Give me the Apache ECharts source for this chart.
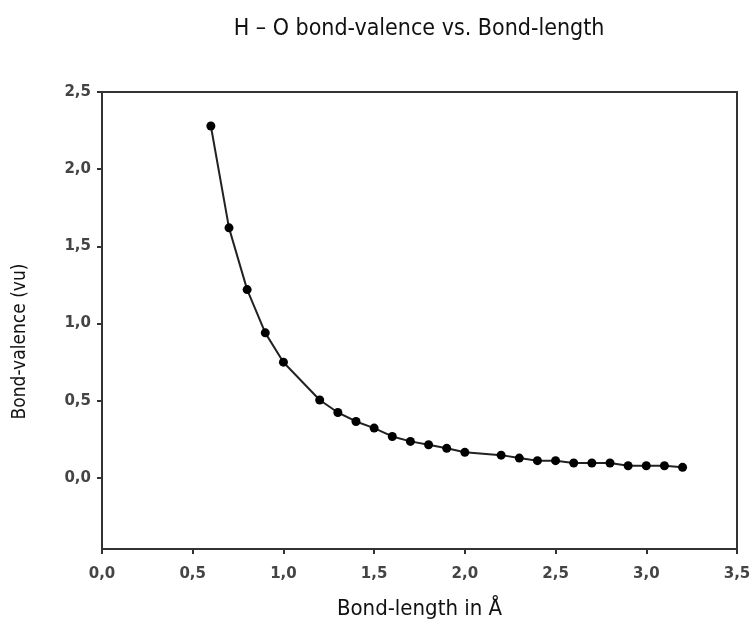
<!DOCTYPE html>
<html>
<head>
<meta charset="utf-8">
<script src="https://cdn.jsdelivr.net/npm/echarts@6/dist/echarts.min.js"></script>
<style>
  html, body { margin: 0; padding: 0; background: #fff; }
  #chart { width: 752px; height: 644px; }
</style>
</head>
<body>
<div id="chart"></div>
<script>
// H–O bond length (Å) and the corresponding bond valence (vu)
const bondLength = [0.6, 0.7, 0.8, 0.9, 1.0, 1.2, 1.3, 1.4, 1.5, 1.6, 1.7, 1.8, 1.9, 2.0,
                    2.2, 2.3, 2.4, 2.5, 2.6, 2.7, 2.8, 2.9, 3.0, 3.1, 3.2];
const bondValence = [2.28, 1.62, 1.22, 0.94, 0.75, 0.505, 0.424, 0.366, 0.323, 0.269, 0.237, 0.215, 0.192, 0.166,
                     0.148, 0.129, 0.112, 0.112, 0.097, 0.097, 0.097, 0.079, 0.079, 0.079, 0.069];
const valenceTicks = [0, 0.5, 1.0, 1.5, 2.0, 2.5];

const condensed = '"DejaVu Sans Condensed", "Liberation Sans Narrow", "Liberation Sans", sans-serif';
const comma = v => v.toFixed(1).replace('.', ',');

const chart = echarts.init(document.getElementById('chart'));
chart.setOption({
  animation: false,
  backgroundColor: '#fff',
  title: {
    text: 'H – O bond-valence vs. Bond-length',
    left: 414,
    top: 13,
    textAlign: 'center',
    textStyle: { fontFamily: condensed, fontSize: 23, fontWeight: 'normal', color: '#111' }
  },
  grid: {
    left: 102, right: 15, top: 92, bottom: 95,
    outerBoundsMode: 'none',
    containLabel: false,
    show: true, borderColor: '#333', borderWidth: 2, backgroundColor: '#fff'
  },
  xAxis: {
    type: 'value',
    min: 0, max: 3.5, interval: 0.5,
    name: 'Bond-length in Å',
    nameLocation: 'middle',
    nameGap: 49,
    nameTextStyle: { fontFamily: condensed, fontSize: 22, color: '#111' },
    axisLine: { show: true, onZero: false, lineStyle: { color: '#333', width: 2 } },
    axisTick: { show: true, length: 5, lineStyle: { color: '#333', width: 2 } },
    axisLabel: { formatter: comma, margin: 18, fontFamily: 'DejaVu Sans', fontWeight: 'bold', fontSize: 15, color: '#444' },
    splitLine: { show: false }
  },
  yAxis: {
    type: 'value',
    min: -0.46, max: 2.5,
    name: 'Bond-valence (vu)',
    nameLocation: 'middle',
    nameGap: 72,
    nameRotate: 90,
    nameTextStyle: { fontFamily: condensed, fontSize: 19, color: '#111', padding: [0, 42, 0, 0] },
    axisLine: { show: true, onZero: false, lineStyle: { color: '#333', width: 2 } },
    axisTick: { show: true, length: 5, customValues: valenceTicks, lineStyle: { color: '#333', width: 2 } },
    axisLabel: { customValues: valenceTicks, formatter: comma, margin: 11, fontFamily: 'DejaVu Sans', fontWeight: 'bold', fontSize: 15, color: '#444' },
    splitLine: { show: false }
  },
  series: [{
    type: 'line',
    data: bondLength.map((x, i) => [x, bondValence[i]]),
    symbol: 'circle',
    symbolSize: 9,
    showAllSymbol: true,
    itemStyle: { color: '#000' },
    lineStyle: { color: '#222', width: 2 }
  }]
});
</script>
</body>
</html>
